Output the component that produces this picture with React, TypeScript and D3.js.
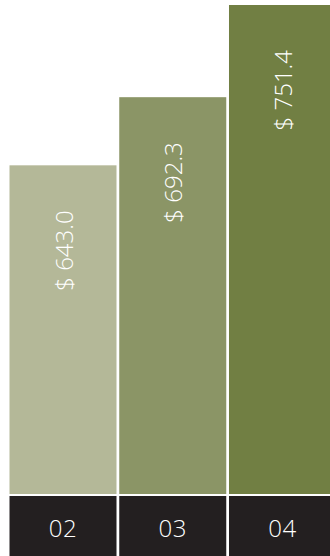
import React from "react";
import * as d3 from "d3";

const categories = ["02", "03", "04"];
const values = [643.0, 692.3, 751.4];
const valueLabels = ["$ 643.0", "$ 692.3", "$ 751.4"];
const barColors = ["#b4b898", "#8b9566", "#717f43"];

export default function App() {
  const W = 330;
  const H = 556;
  const base = 494;
  const x = d3.scaleBand<string>().domain(categories).range([9.5, 336]).paddingInner(0.025).paddingOuter(0);
  const y = d3.scalePow().exponent(2.55).domain([0, 751.4]).range([base, 5]);
  const font = "'Open Sans', sans-serif";
  return (
    <svg width={W} height={H} style={{ position: "absolute", left: 0, top: 0 }} fontFamily={font}>
      <rect x={0} y={0} width={W} height={H} fill="#fff" />
      {categories.map((c, i) => {
        const bx = x(c)!;
        const bw = x.bandwidth();
        const top = y(values[i]);
        const cx = bx + bw / 2;
        return (
          <g key={c}>
            <rect x={bx} y={top} width={bw} height={base - top} fill={barColors[i]} />
            <text
              transform={`translate(${cx},${top + 45}) rotate(-90)`}
              textAnchor="end"
              dominantBaseline="central"
              fill="#fff"
              fontSize={24}
              fontWeight={300}
            >
              {valueLabels[i]}
            </text>
            <rect x={bx} y={496} width={bw} height={H - 496} fill="#231f20" />
            <text x={cx} y={527} textAnchor="middle" dominantBaseline="central" fill="#fff" fontSize={24} fontWeight={300} letterSpacing={0.5}>
              {c}
            </text>
          </g>
        );
      })}
    </svg>
  );
}
